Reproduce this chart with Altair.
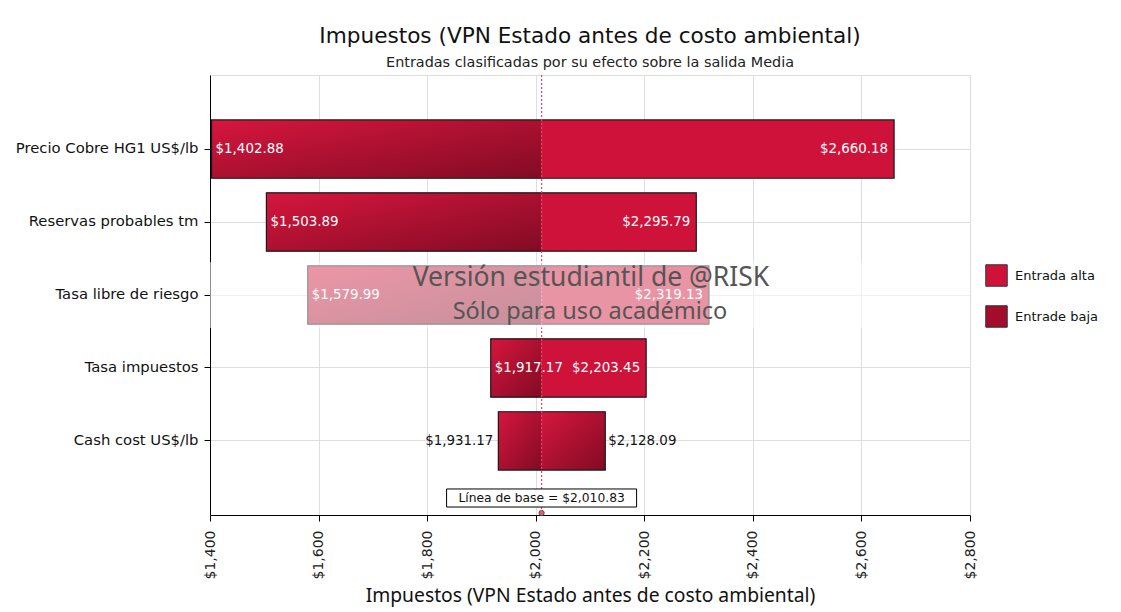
import altair as alt
import pandas as pd

# ---- data ----
categories = ["Precio Cobre HG1 US$/lb", "Reservas probables tm", "Tasa libre de riesgo",
              "Tasa impuestos", "Cash cost US$/lb"]
low_values = [1402.88, 1503.89, 1579.99, 1917.17, 1931.17]
high_values = [2660.18, 2295.79, 2319.13, 2203.45, 2128.09]
left_type = ["Entrade baja", "Entrade baja", "Entrade baja", "Entrade baja", "Entrade baja"]
right_type = ["Entrada alta", "Entrada alta", "Entrada alta", "Entrada alta", "Entrade baja"]
labels_inside = [True, True, True, True, False]
baseline = 2010.83
x_ticks = [1400, 1600, 1800, 2000, 2200, 2400, 2600, 2800]

title = "Impuestos (VPN Estado antes de costo ambiental)"
subtitle = "Entradas clasificadas por su efecto sobre la salida Media"
x_title = "Impuestos (VPN Estado antes de costo ambiental)"
base_label = "Línea de base = $2,010.83"
watermark1 = "Versión estudiantil de @RISK"
watermark2 = "Sólo para uso académico"

W, H = 760, 440
FONT = "DejaVu Sans"

def money(v):
    return "${:,.2f}".format(v)

seg_rows = []
for c, lo, hi, lt, rt in zip(categories, low_values, high_values, left_type, right_type):
    seg_rows.append({"cat": c, "a": lo, "b": baseline, "type": lt})
    seg_rows.append({"cat": c, "a": baseline, "b": hi, "type": rt})
segs = pd.DataFrame(seg_rows)

bars = pd.DataFrame({"cat": categories, "lo": low_values, "hi": high_values,
                     "lo_txt": [money(v) for v in low_values],
                     "hi_txt": [money(v) for v in high_values],
                     "inside": labels_inside})
inside = bars[bars["inside"]]
outside = bars[~bars["inside"]]

ysc = alt.Scale(domain=categories, paddingInner=0.2, paddingOuter=0.615)
xsc = alt.Scale(domain=[1400, 2800], nice=False, zero=False)
Y = alt.Y("cat:N", scale=ysc, sort=categories, title=None,
          axis=alt.Axis(labelFont=FONT, labelFontSize=14.8, labelColor="#111",
                        labelPadding=6, tickColor="black", tickSize=6,
                        domainColor="black", gridColor="#dedede", grid=True,
                        labelLimit=260))
X = alt.X("a:Q", scale=xsc, title=x_title,
          axis=alt.Axis(values=x_ticks, format="$,d", labelAngle=270,
                        labelFont=FONT, labelFontSize=14, labelColor="#222",
                        labelPadding=9, tickColor="black", tickSize=6,
                        domainColor="black", gridColor="#dedede", grid=True,
                        titleFont="Noto Sans", titleFontSize=19.3, titleFontWeight="normal",
                        titleColor="#111", titlePadding=8))

color_scale = alt.Scale(domain=["Entrada alta", "Entrade baja"], range=["#cf1239", "#a30c2b"])

base_seg = alt.Chart(segs).mark_bar(stroke=None).encode(
    x=X, x2="b:Q", y=Y,
    color=alt.Color("type:N", scale=color_scale, title=None,
                    legend=alt.Legend(orient="none", legendX=775, legendY=189,
                                      symbolType="square", symbolSize=460,
                                      symbolStrokeColor="#333", symbolStrokeWidth=1,
                                      symbolOpacity=1,
                                      labelFont=FONT, labelFontSize=13, labelColor="#111",
                                      rowPadding=14, labelOffset=7)))

grad = alt.Gradient(gradient="linear",
                    stops=[alt.GradientStop(color="#d6163d", offset=0),
                           alt.GradientStop(color="#820b24", offset=1)],
                    x1=0, y1=0, x2=1, y2=1)
solid_seg = alt.Chart(segs).transform_filter(alt.datum.type == "Entrade baja").mark_bar(
    fill=grad, stroke=None).encode(x="a:Q", x2="b:Q", y=alt.Y("cat:N", scale=ysc, sort=categories))

outline = alt.Chart(bars).mark_bar(fill=None, filled=False, stroke="#1a1a1a", strokeWidth=1.2).encode(
    x="lo:Q", x2="hi:Q", y=alt.Y("cat:N", scale=ysc, sort=categories))

base_rule = alt.Chart(pd.DataFrame({"v": [baseline]})).mark_rule(
    color="#f0406a", strokeDash=[2, 2], strokeWidth=1.2).encode(x="v:Q")

txt = dict(font=FONT, fontSize=13.4, baseline="middle")
lo_in = alt.Chart(inside).mark_text(align="left", dx=4, color="white", **txt).encode(
    x="lo:Q", y=alt.Y("cat:N", scale=ysc, sort=categories), text="lo_txt:N")
hi_in = alt.Chart(inside).mark_text(align="right", dx=-6, color="white", **txt).encode(
    x="hi:Q", y=alt.Y("cat:N", scale=ysc, sort=categories), text="hi_txt:N")
lo_out = alt.Chart(outside).mark_text(align="right", dx=-5, color="#111", **txt).encode(
    x="lo:Q", y=alt.Y("cat:N", scale=ysc, sort=categories), text="lo_txt:N")
hi_out = alt.Chart(outside).mark_text(align="left", dx=3, color="#111", **txt).encode(
    x="hi:Q", y=alt.Y("cat:N", scale=ysc, sort=categories), text="hi_txt:N")

# watermark band
band = alt.Chart(pd.DataFrame({"k": [0]})).mark_rect(color="white", opacity=0.55).encode(
    x=alt.value(0), x2=alt.value(W), y=alt.value(187), y2=alt.value(253))
wm1 = alt.Chart(pd.DataFrame({"t": [watermark1]})).mark_text(
    font="Noto Sans", fontSize=26.5, color="#555", align="center", baseline="middle").encode(
    x=alt.value(W / 2 + 1), y=alt.value(203), text="t:N")
wm2 = alt.Chart(pd.DataFrame({"t": [watermark2]})).mark_text(
    font="Noto Sans", fontSize=23.5, color="#555", align="center", baseline="middle").encode(
    x=alt.value(W / 2), y=alt.value(237), text="t:N")

# baseline label box and marker
bl = pd.DataFrame({"v": [baseline], "t": [base_label]})
box = alt.Chart(bl).mark_point(
    shape="M-1,-0.095L1,-0.095L1,0.095L-1,0.095Z", size=36100, filled=True,
    fill="white", stroke="black", strokeWidth=1, opacity=1).encode(
    x="v:Q", y=alt.value(423))
box_text = alt.Chart(bl).mark_text(font=FONT, fontSize=12.3, color="#111",
                                   baseline="middle").encode(
    x="v:Q", y=alt.value(423), text="t:N")
marker = alt.Chart(bl).mark_point(shape="circle", size=28, filled=True, fill="#e0607a",
                                  stroke="#444", strokeWidth=0.8, opacity=1).encode(
    x="v:Q", y=alt.value(H - 2))

chart = alt.layer(base_seg, solid_seg, outline, base_rule, lo_in, hi_in, lo_out, hi_out,
                  band, wm1, wm2, box, box_text, marker).properties(
    width=W, height=H,
    title=alt.TitleParams(text=title, subtitle=subtitle, anchor="middle",
                          font=FONT, fontSize=21.6, fontWeight="normal", color="#111",
                          subtitleFont=FONT, subtitleFontSize=14.4, subtitleColor="#222",
                          subtitlePadding=8, offset=5),
    autosize=alt.AutoSizeParams(type="none"),
    padding={"left": 202, "top": 67, "right": 130, "bottom": 98},
).configure_view(fill="#f3f3f3", stroke=None).configure(background="white")

chart.save("out.html", embed_options={"renderer": "svg", "actions": False})
